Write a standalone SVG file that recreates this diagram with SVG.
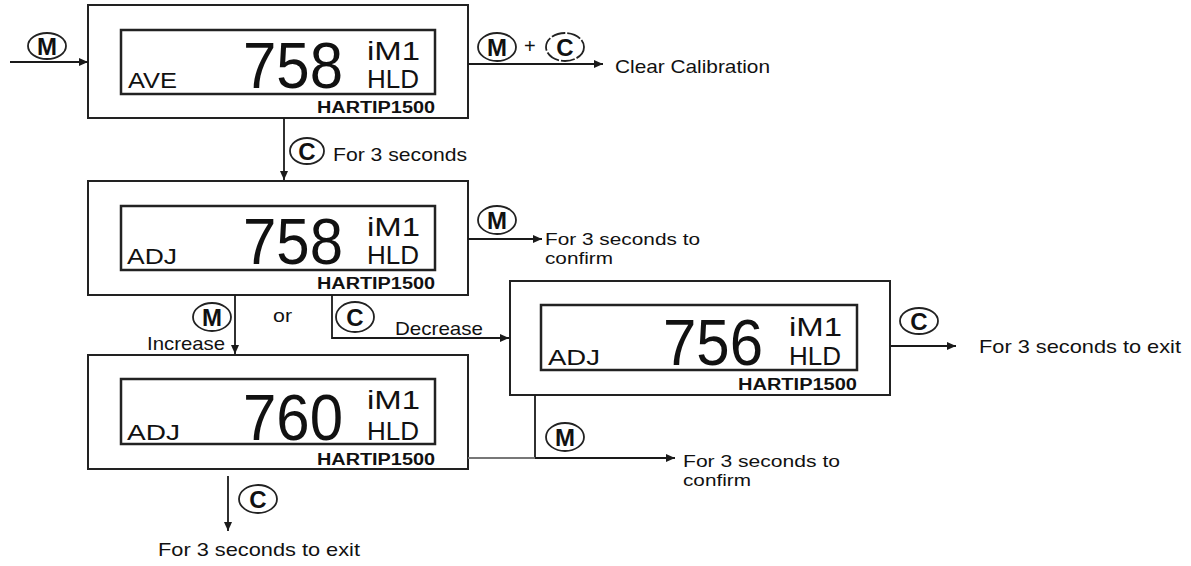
<svg xmlns="http://www.w3.org/2000/svg" width="1191" height="566" viewBox="0 0 1191 566">
<defs>
<marker id="ah" markerUnits="userSpaceOnUse" markerWidth="10" markerHeight="8" refX="9" refY="4" orient="auto">
<path d="M0,0 L9,4 L0,8 Z" fill="#1a1a1a"/>
</marker>
<style>
.box{fill:#fff;stroke:#222;stroke-width:2}
.lcd{fill:#fff;stroke:#222;stroke-width:2.5}
.lbl{font-family:"Liberation Sans",Arial,sans-serif;font-size:22px;fill:#111}
.dig{font-family:"Liberation Sans",Arial,sans-serif;font-size:64px;fill:#111}
.ind{font-family:"Liberation Sans",Arial,sans-serif;font-size:26px;fill:#111}
.brand{font-family:"Liberation Sans",Arial,sans-serif;font-size:16px;font-weight:bold;fill:#111}
.t{font-family:"Liberation Sans",Arial,sans-serif;font-size:19px;fill:#111}
.t2{font-family:"Liberation Sans",Arial,sans-serif;font-size:17px;fill:#111}
.key{fill:#fff;stroke:#222;stroke-width:1.8}
.kt{font-family:"Liberation Sans",Arial,sans-serif;font-size:24px;font-weight:bold;fill:#111;text-anchor:middle}
.ln{fill:none;stroke:#1a1a1a;stroke-width:1.8}
</style>
</defs>
<rect width="1191" height="566" fill="#fff"/>

<g id="node-ave" transform="translate(88,5)">
<rect class="box" x="0" y="0" width="380" height="113"/>
<rect class="lcd" x="33" y="25" width="314" height="64"/>
<text class="lbl" x="40" y="83" textLength="49" lengthAdjust="spacingAndGlyphs">AVE</text>
<text class="dig" x="155" y="83" textLength="100" lengthAdjust="spacingAndGlyphs">758</text>
<text class="ind" x="279" y="55" textLength="53" lengthAdjust="spacingAndGlyphs">iM1</text>
<text class="ind" x="279" y="83" textLength="52" lengthAdjust="spacingAndGlyphs">HLD</text>
<text class="brand" x="229" y="108" textLength="118" lengthAdjust="spacingAndGlyphs">HARTIP1500</text>
</g>

<g id="node-adj758" transform="translate(88,181)">
<rect class="box" x="0" y="0" width="380" height="114"/>
<rect class="lcd" x="33" y="25" width="314" height="64"/>
<text class="lbl" x="39" y="83" textLength="50" lengthAdjust="spacingAndGlyphs">ADJ</text>
<text class="dig" x="155" y="83" textLength="100" lengthAdjust="spacingAndGlyphs">758</text>
<text class="ind" x="279" y="55" textLength="53" lengthAdjust="spacingAndGlyphs">iM1</text>
<text class="ind" x="279" y="83" textLength="52" lengthAdjust="spacingAndGlyphs">HLD</text>
<text class="brand" x="229" y="108" textLength="118" lengthAdjust="spacingAndGlyphs">HARTIP1500</text>
</g>

<g id="node-adj760" transform="translate(88,355)">
<rect class="box" x="0" y="0" width="380" height="114"/>
<rect class="lcd" x="33" y="24" width="314" height="65"/>
<text class="lbl" x="39" y="85" textLength="53" lengthAdjust="spacingAndGlyphs">ADJ</text>
<text class="dig" x="155" y="85" textLength="100" lengthAdjust="spacingAndGlyphs">760</text>
<text class="ind" x="279" y="54" textLength="53" lengthAdjust="spacingAndGlyphs">iM1</text>
<text class="ind" x="279" y="85" textLength="52" lengthAdjust="spacingAndGlyphs">HLD</text>
<text class="brand" x="229" y="110" textLength="118" lengthAdjust="spacingAndGlyphs">HARTIP1500</text>
</g>

<g id="node-adj756" transform="translate(510,281)">
<rect class="box" x="0" y="0" width="380" height="114"/>
<rect class="lcd" x="31" y="24" width="316" height="65"/>
<text class="lbl" x="38" y="84" textLength="52" lengthAdjust="spacingAndGlyphs">ADJ</text>
<text class="dig" x="153" y="84" textLength="100" lengthAdjust="spacingAndGlyphs">756</text>
<text class="ind" x="279" y="55" textLength="53" lengthAdjust="spacingAndGlyphs">iM1</text>
<text class="ind" x="279" y="84" textLength="52" lengthAdjust="spacingAndGlyphs">HLD</text>
<text class="brand" x="228" y="109" textLength="119" lengthAdjust="spacingAndGlyphs">HARTIP1500</text>
</g>

<g id="connectors">
<line class="ln" x1="10" y1="62" x2="88" y2="62" marker-end="url(#ah)"/>
<line class="ln" x1="468" y1="64" x2="603" y2="64" marker-end="url(#ah)"/>
<line class="ln" x1="284" y1="118" x2="284" y2="180" marker-end="url(#ah)"/>
<line class="ln" x1="468" y1="239" x2="542" y2="239" marker-end="url(#ah)"/>
<line class="ln" x1="235" y1="295" x2="235" y2="354" marker-end="url(#ah)"/>
<polyline class="ln" points="332,295 332,338 509,338" marker-end="url(#ah)"/>
<line class="ln" x1="228" y1="476" x2="228" y2="531" marker-end="url(#ah)"/>
<line class="ln" x1="535" y1="395" x2="535" y2="458"/>
<line class="ln" x1="468" y1="458" x2="535" y2="458" style="stroke:#777"/>
<line class="ln" x1="535" y1="458" x2="675" y2="458" marker-end="url(#ah)"/>
<line class="ln" x1="891" y1="346" x2="956" y2="346" marker-end="url(#ah)"/>
</g>

<g id="labels">
<ellipse class="key" cx="47" cy="46" rx="19" ry="13"/><text class="kt" x="47" y="54.5">M</text>

<ellipse class="key" cx="497" cy="47" rx="19" ry="14"/><text class="kt" x="497" y="55.5">M</text>
<text class="t" x="524" y="53" style="font-size:20px">+</text>
<ellipse class="key" cx="565" cy="47" rx="19" ry="14" style="stroke-dasharray:14 2"/><text class="kt" x="565" y="55.5">C</text>
<text class="t" x="615" y="73" textLength="155" lengthAdjust="spacingAndGlyphs">Clear Calibration</text>

<ellipse class="key" cx="307" cy="151" rx="17" ry="13"/><text class="kt" x="307" y="159.5">C</text>
<text class="t" x="333" y="161" textLength="134" lengthAdjust="spacingAndGlyphs">For 3 seconds</text>

<ellipse class="key" cx="497" cy="220" rx="19" ry="14"/><text class="kt" x="497" y="228.5">M</text>
<text class="t2" x="545" y="245" textLength="155" lengthAdjust="spacingAndGlyphs">For 3 seconds to</text>
<text class="t2" x="545" y="264" textLength="68" lengthAdjust="spacingAndGlyphs">confirm</text>

<ellipse class="key" cx="212" cy="317" rx="19" ry="14"/><text class="kt" x="212" y="325.5">M</text>
<text class="t" x="147" y="350" textLength="78" lengthAdjust="spacingAndGlyphs">Increase</text>
<text class="t" x="273" y="322" textLength="19" lengthAdjust="spacingAndGlyphs">or</text>
<ellipse class="key" cx="355" cy="317" rx="19" ry="15"/><text class="kt" x="355" y="325.5">C</text>
<text class="t" x="395" y="335" textLength="88" lengthAdjust="spacingAndGlyphs">Decrease</text>

<ellipse class="key" cx="919" cy="321" rx="19" ry="13"/><text class="kt" x="919" y="329.5">C</text>
<text class="t" x="979" y="353" textLength="202" lengthAdjust="spacingAndGlyphs">For 3 seconds to exit</text>

<ellipse class="key" cx="565" cy="437" rx="19" ry="14"/><text class="kt" x="565" y="445.5">M</text>
<text class="t2" x="683" y="467" textLength="157" lengthAdjust="spacingAndGlyphs">For 3 seconds to</text>
<text class="t2" x="683" y="486" textLength="68" lengthAdjust="spacingAndGlyphs">confirm</text>

<ellipse class="key" cx="258" cy="499" rx="19" ry="14"/><text class="kt" x="258" y="507.5">C</text>
<text class="t" x="158" y="556" textLength="202" lengthAdjust="spacingAndGlyphs">For 3 seconds to exit</text>
</g>
</svg>
